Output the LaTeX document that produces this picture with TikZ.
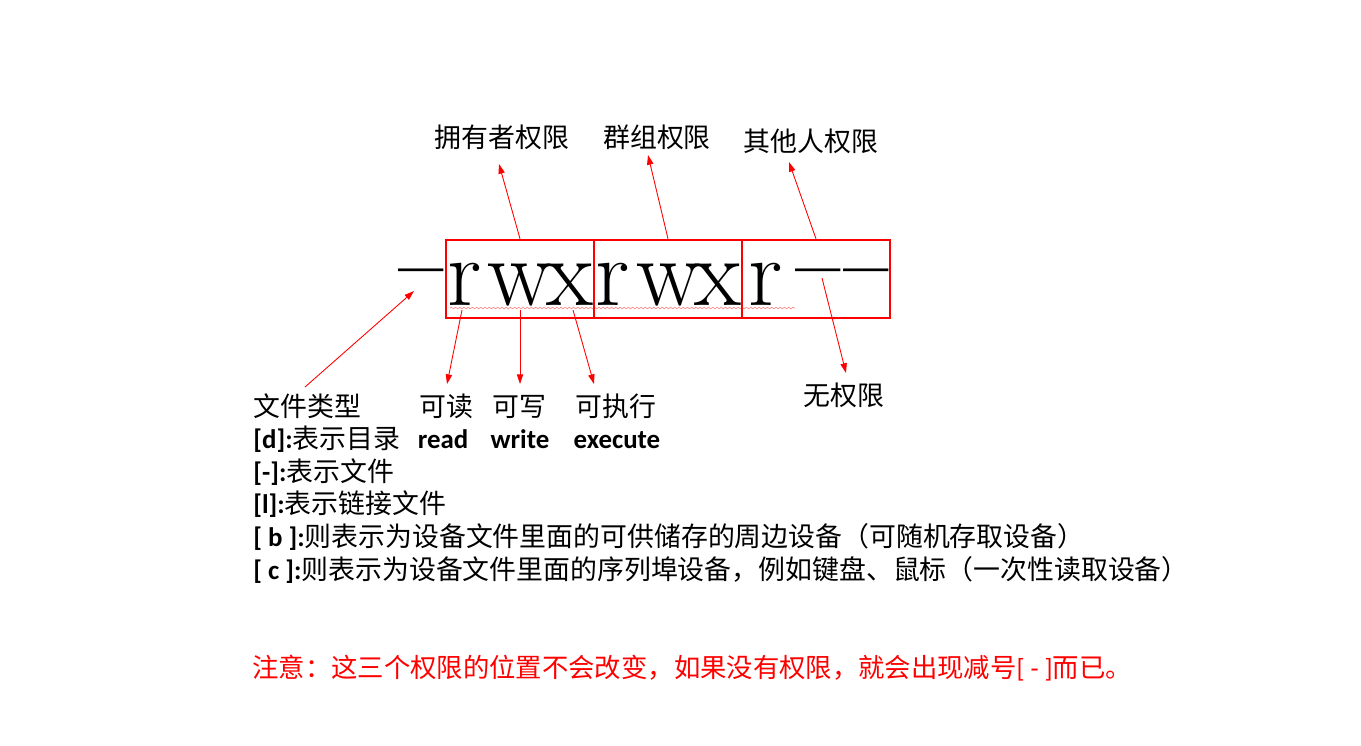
\documentclass[tikz,border=0pt]{standalone}
\usepackage{fontspec}
\setmainfont{Carlito}
\newfontfamily\cjk{Noto Sans CJK SC}
\newfontfamily\bigserif{Latin Modern Roman}
\usetikzlibrary{arrows.meta,decorations.pathmorphing}
\definecolor{markRed}{RGB}{255,0,0}
\definecolor{waveRed}{RGB}{255,120,120}
\newcommand{\zh}[1]{{\cjk #1}}

\begin{document}
\begin{tikzpicture}[x=0.02cm, y=-0.02cm,
    txt/.style={inner sep=0pt, font=\fontsize{15.3}{18}\selectfont},
    perm/.style={inner sep=0pt, anchor=base, font=\bigserif\fontsize{55}{57}\selectfont},
    dashchar/.style={inner sep=0pt, anchor=base, font=\bigserif\bfseries\fontsize{46}{48}\selectfont},
    permbox/.style={draw=markRed, line width=1.4pt, minimum width=2.96cm, minimum height=1.56cm, inner sep=0pt},
    pa/.style={markRed, line width=0.5pt, -{Triangle[length=5.5pt,width=3.6pt]}}]
  \useasboundingbox (0,0) rectangle (1361,745);
  % permission string
  \node[dashchar] (d0) at (421,292) {–};
  \foreach \name/\x/\c in {r1/465/r, w1/520/w, x1/570/x, r2/613/r, w2/669/w, x2/718/x, r3/766/r}
    \node[perm] (\name) at (\x,305) {\c};
  \node[dashchar] (d1) at (818,292) {–};
  \node[dashchar] (d2) at (866,292) {–};
  \draw[waveRed, line width=0.3pt, decorate, decoration={snake, amplitude=0.5pt, segment length=2.4pt}]
    (450,308) -- (795,308);
  \node[permbox] (ubox) at (520,279) {};
  \node[permbox] (gbox) at (668,279) {};
  \node[permbox] (obox) at (816,279) {};
  % labels on top
  \node[txt] (owner) at (502,137) {\zh{拥有者权限}};
  \node[txt] (group) at (657,137) {\zh{群组权限}};
  \node[txt] (other) at (811,141) {\zh{其他人权限}};
  \node[txt] (none) at (844,395) {\zh{无权限}};
  % labels below
  \node[txt, anchor=base west] (ftype) at (253,416) {\zh{文件类型}};
  \node[txt, anchor=base] (rd) at (446,416) {\zh{可读}};
  \node[txt, anchor=base] (wr) at (519,416) {\zh{可写}};
  \node[txt, anchor=base] (ex) at (616,416) {\zh{可执行}};
  \node[txt, anchor=base, font=\fontsize{15.3}{18}\selectfont\bfseries] (rdE) at (443,448) {read};
  \node[txt, anchor=base, font=\fontsize{15.3}{18}\selectfont\bfseries] (wrE) at (520,448) {write};
  \node[txt, anchor=base, font=\fontsize{15.3}{18}\selectfont\bfseries] (exE) at (617,448) {execute};
  \node[txt, anchor=base west] (tD) at (253,448) {\textbf{[d]:}\zh{表示目录}};
  \node[txt, anchor=base west] (tF) at (253,481) {\textbf{[-]:}\zh{表示文件}};
  \node[txt, anchor=base west] (tL) at (253,513) {\textbf{[l]:}\zh{表示链接文件}};
  \node[txt, anchor=base west] (tB) at (253,546) {\textbf{[ b ]:}\zh{则表示为设备文件里面的可供储存的周边设备（可随机存取设备）}};
  \node[txt, anchor=base west] (tC) at (253,579) {\textbf{[ c ]:}\zh{则表示为设备文件里面的序列埠设备，例如键盘、鼠标（一次性读取设备）}};
  \node[txt, anchor=base west, markRed, font=\fontsize{15}{18}\selectfont] (note) at (252,677)
    {\zh{注意：这三个权限的位置不会改变，如果没有权限，就会出现减号}[ - ]\zh{而已。}};
  % arrows
  \coordinate (ownerTip) at (499,164);
  \coordinate (groupTip) at (648,155);
  \coordinate (otherTip) at (789,162);
  \coordinate (typeFoot) at (305,387);
  \coordinate (typeTip) at (414,291);
  \coordinate (rdFoot) at (462,310);
  \coordinate (rdTip) at (447,384);
  \coordinate (wrFoot) at (520,310);
  \coordinate (wrTip) at (520,384);
  \coordinate (exFoot) at (573,310);
  \coordinate (exTip) at (594,384);
  \coordinate (noneFoot) at (822,278);
  \coordinate (noneTip) at (846,373);
  \draw[pa] (ubox.north) -- (ownerTip);
  \draw[pa] (gbox.north) -- (groupTip);
  \draw[pa] (obox.north) -- (otherTip);
  \draw[pa] (typeFoot) -- (typeTip);
  \draw[pa] (rdFoot) -- (rdTip);
  \draw[pa] (wrFoot) -- (wrTip);
  \draw[pa] (exFoot) -- (exTip);
  \draw[pa] (noneFoot) -- (noneTip);
\end{tikzpicture}
\end{document}
